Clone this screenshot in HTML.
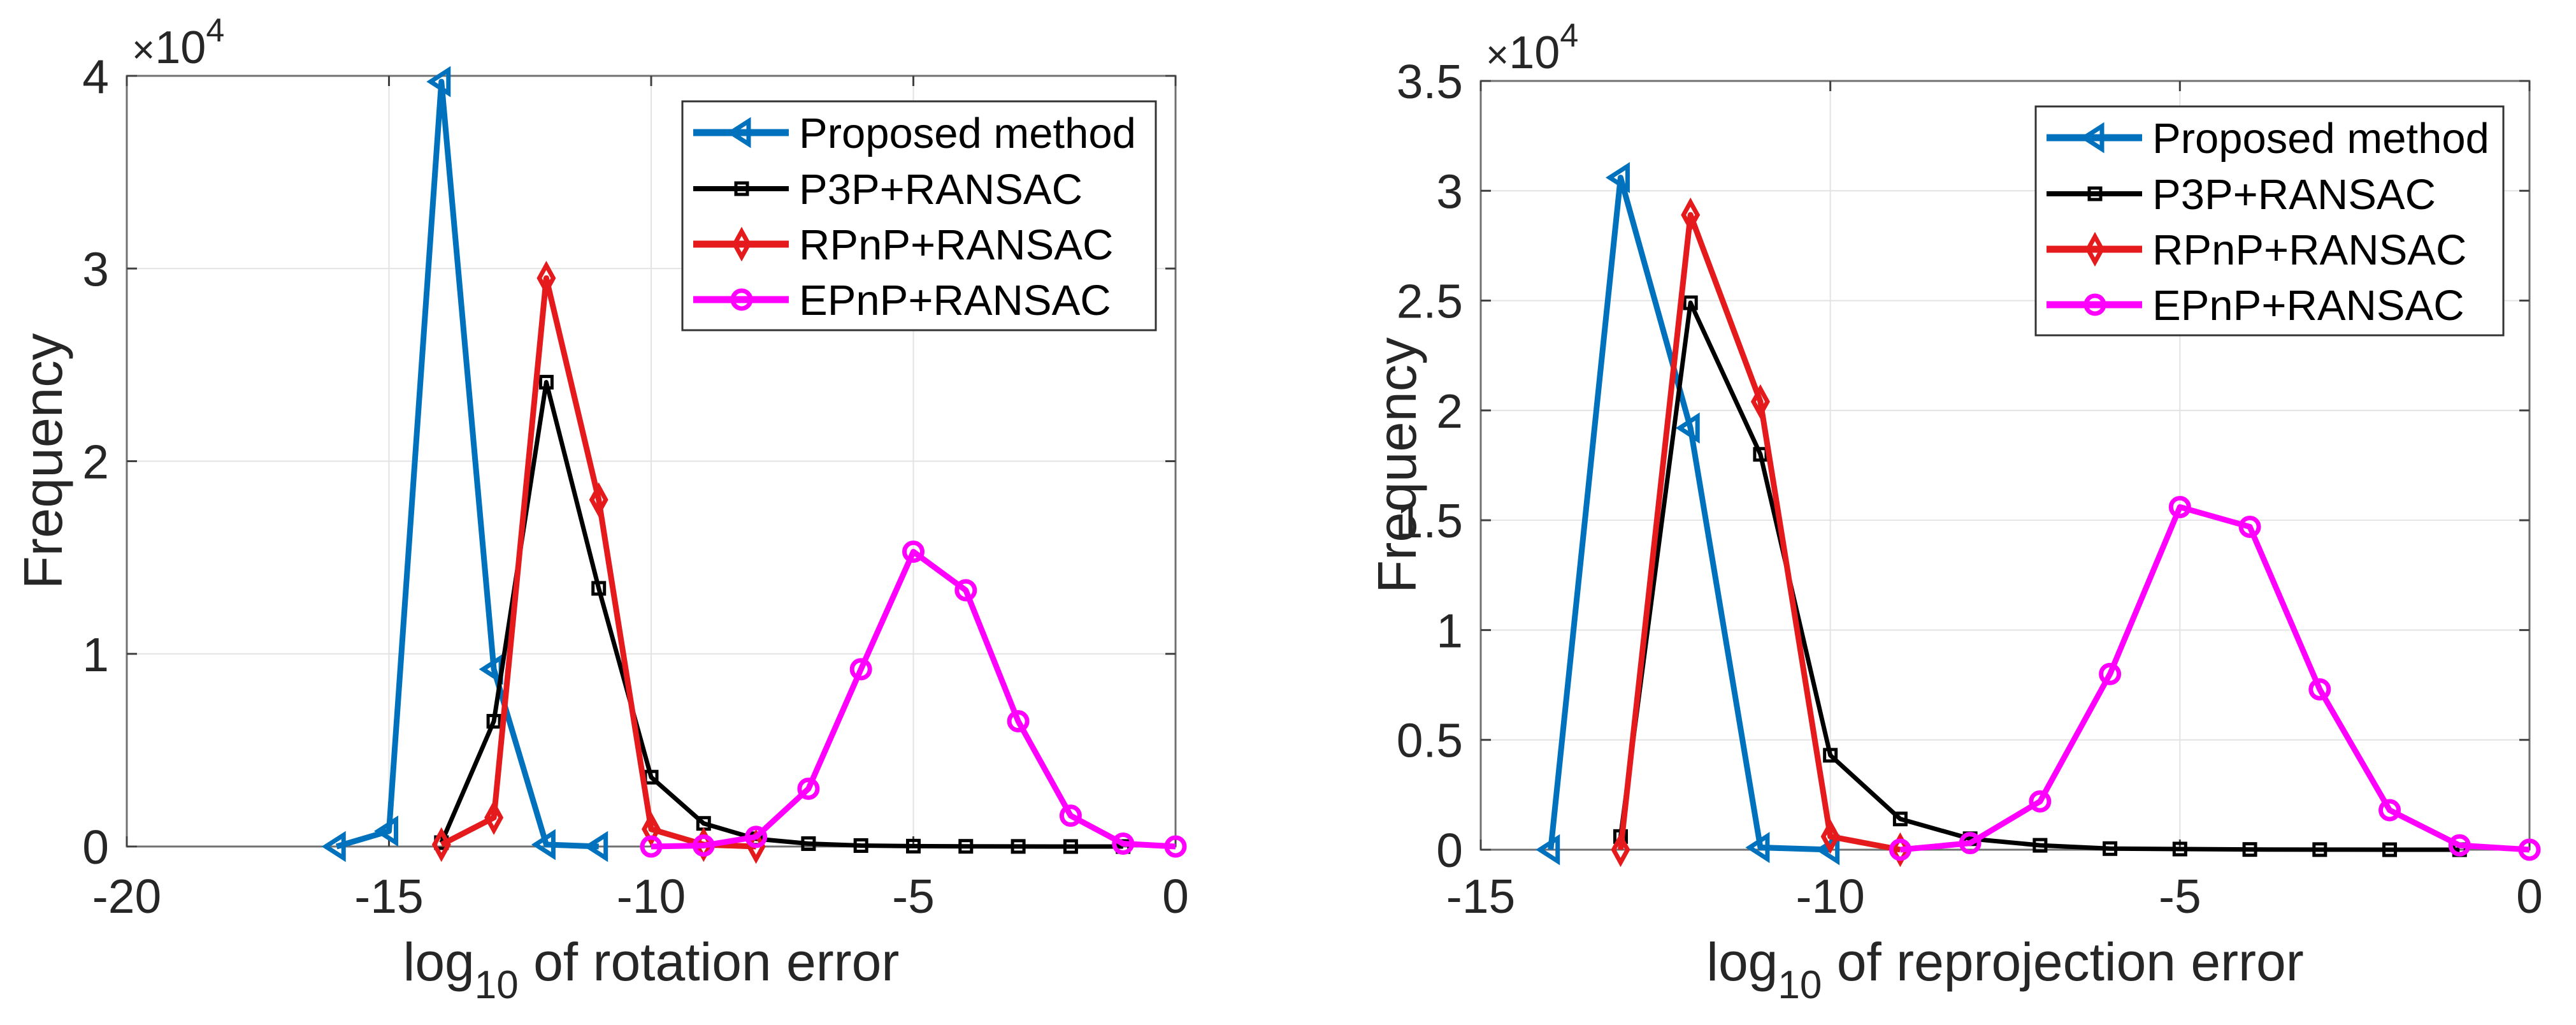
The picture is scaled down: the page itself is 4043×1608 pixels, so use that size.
<!DOCTYPE html>
<html><head><meta charset="utf-8"><style>
html,body{margin:0;padding:0;background:#fff;}
svg{display:block;font-family:"Liberation Sans",Arial,sans-serif;}
</style></head><body>
<svg id="fig" width="4043" height="1608" viewBox="0 0 4043 1608" xmlns="http://www.w3.org/2000/svg"></svg>
<script>
// ---- Left chart data (rotation error) ----
const rotPropX = [-16,-15,-14,-13,-12,-11];
const rotPropY = [0,800,39700,9200,100,0];
const rotP3pX = [-14,-13,-12,-11,-10,-9,-8,-7,-6,-5,-4,-3,-2,-1];
const rotP3pY = [200,6500,24100,13400,3600,1200,400,150,50,20,10,5,0,0];
const rotRpnpX = [-14,-13,-12,-11,-10,-9,-8];
const rotRpnpY = [100,1500,29500,18000,900,100,0];
const rotEpnpX = [-10,-9,-8,-7,-6,-5,-4,-3,-2,-1,0];
const rotEpnpY = [0,50,500,3000,9200,15300,13300,6500,1600,150,0];
const rotXTicks = [-20,-15,-10,-5,0];
const rotYTicks = [0,10000,20000,30000,40000];
const rotYTickLabels = ["0","1","2","3","4"];
// ---- Right chart data (reprojection error) ----
const repPropX = [-14,-13,-12,-11,-10];
const repPropY = [0,30600,19200,100,0];
const repP3pX = [-13,-12,-11,-10,-9,-8,-7,-6,-5,-4,-3,-2,-1];
const repP3pY = [600,24900,18000,4300,1400,500,200,50,30,10,5,0,0];
const repRpnpX = [-13,-12,-11,-10,-9];
const repRpnpY = [0,28900,20400,600,0];
const repEpnpX = [-9,-8,-7,-6,-5,-4,-3,-2,-1,0];
const repEpnpY = [0,300,2200,8000,15600,14700,7300,1800,200,0];
const repXTicks = [-15,-10,-5,0];
const repYTicks = [0,5000,10000,15000,20000,25000,30000,35000];
const repYTickLabels = ["0","0.5","1","1.5","2","2.5","3","3.5"];
const legendLabels = ["Proposed method","P3P+RANSAC","RPnP+RANSAC","EPnP+RANSAC"];

const NS="http://www.w3.org/2000/svg";
const svg=document.getElementById('fig');
function mk(tag,attrs,parent){const e=document.createElementNS(NS,tag);for(const k in attrs)e.setAttribute(k,attrs[k]);(parent||svg).appendChild(e);return e;}

const COLORS=["#0072BD","#000000","#E41A1C","#FF00FF"];
const MARK=["tri","sq","dia","circ"];

function marker(g,type,x,y,color){
  let e;
  if(type==="tri"){e=mk('polygon',{points:`${x-17},${y} ${x+11},${y-18} ${x+11},${y+18}`,fill:'none',stroke:color,'stroke-width':7},g);}
  else if(type==="sq"){e=mk('rect',{x:x-9,y:y-9,width:18,height:18,fill:'none',stroke:color,'stroke-width':5},g);}
  else if(type==="dia"){e=mk('polygon',{points:`${x},${y-20} ${x+11},${y} ${x},${y+20} ${x-11},${y}`,fill:'none',stroke:color,'stroke-width':7},g);}
  else {e=mk('circle',{cx:x,cy:y,r:14,fill:'none',stroke:color,'stroke-width':7},g);}
  
  
}

function chart(cfg){
  const {L,R,T,B,xmin,xmax,ymax,xTicks,yTicks,yLabels,series,xlabel,prefix,legend}=cfg;
  const sx=v=>L+(v-xmin)/(xmax-xmin)*(R-L);
  const sy=v=>B-v/ymax*(B-T);
  const g=mk('g',{});
  
  
  // grid
  xTicks.forEach(t=>{const l=mk('line',{x1:sx(t),x2:sx(t),y1:T,y2:B,stroke:'#e3e3e3','stroke-width':2},g);
    });
  yTicks.forEach(t=>{const l=mk('line',{x1:L,x2:R,y1:sy(t),y2:sy(t),stroke:'#e3e3e3','stroke-width':2},g);
    });
  // axes box
  const box=mk('rect',{x:L,y:T,width:R-L,height:B-T,fill:'none',stroke:'#707070','stroke-width':3},g);
  
  // ticks
  xTicks.forEach(t=>{
    mk('line',{x1:sx(t),x2:sx(t),y1:B,y2:B-16,stroke:'#404040','stroke-width':3},g);
    mk('line',{x1:sx(t),x2:sx(t),y1:T,y2:T+16,stroke:'#404040','stroke-width':3},g);
    const tx=mk('text',{x:sx(t),y:1432,'font-size':75,'text-anchor':'middle',fill:'#262626'},g);
    tx.textContent=String(t);
    
  });
  yTicks.forEach((t,i)=>{
    mk('line',{x1:L,x2:L+16,y1:sy(t),y2:sy(t),stroke:'#404040','stroke-width':3},g);
    mk('line',{x1:R,x2:R-16,y1:sy(t),y2:sy(t),stroke:'#404040','stroke-width':3},g);
    const tx=mk('text',{x:L-28,y:sy(t)+27,'font-size':75,'text-anchor':'end',fill:'#262626'},g);
    tx.textContent=yLabels[i];
    
  });
  // exponent
  const ex=mk('text',{x:L+8,y:T-20,'font-size':72,fill:'#262626'},g);
  
  const t1=mk('tspan',{'font-size':62},ex);t1.textContent='×';
  const t2=mk('tspan',{},ex);t2.textContent='10';
  const t3=mk('tspan',{dy:-34,'font-size':52},ex);t3.textContent='4';
  // axis titles
  const yt=mk('text',{x:0,y:0,'font-size':85,'text-anchor':'middle',fill:'#262626',transform:`translate(${L-102},${(T+B)/2}) rotate(-90)`},g);
  yt.textContent='Frequency';
  
  const xt=mk('text',{x:(L+R)/2,y:1538,'font-size':84,'text-anchor':'middle',fill:'#262626'},g);
  
  const a=mk('tspan',{},xt);a.textContent='log';
  const b=mk('tspan',{dy:28,'font-size':62},xt);b.textContent='10';
  const c=mk('tspan',{dy:-28},xt);c.textContent=' '+xlabel;
  // series
  series.forEach((s,i)=>{
    const sg=mk('g',{},g);
    
    
    const pts=s.x.map((v,j)=>sx(v)+','+sy(s.y[j])).join(' ');
    const pl=mk('polyline',{points:pts,fill:'none',stroke:COLORS[i],'stroke-width':i===1?7:9,'stroke-linejoin':'round'},sg);
    
    s.x.forEach((v,j)=>marker(sg,MARK[i],sx(v),sy(s.y[j]),COLORS[i]));
  });
  // legend
  const lg=mk('g',{},g);
  
  mk('rect',{x:legend.x,y:legend.y,width:legend.w,height:359,fill:'#fff',stroke:'#333','stroke-width':3},lg);
  const rows=[49,137,224,311];
  legendLabels.forEach((lab,i)=>{
    const y=legend.y+rows[i];
    const e=mk('g',{},lg);
    
    mk('line',{x1:legend.x+17,x2:legend.x+167,y1:y,y2:y,stroke:COLORS[i],'stroke-width':i===1?8:11},e);
    marker(e,MARK[i],legend.x+93,y,COLORS[i]);
    const t=mk('text',{x:legend.x+183,y:y+24,'font-size':67,fill:'#000'},e);
    t.textContent=lab;
  });
}

chart({L:199,R:1845,T:119,B:1328,xmin:-20,xmax:0,ymax:40000,xTicks:rotXTicks,yTicks:rotYTicks,yLabels:rotYTickLabels,
  series:[{x:rotPropX,y:rotPropY},{x:rotP3pX,y:rotP3pY},{x:rotRpnpX,y:rotRpnpY},{x:rotEpnpX,y:rotEpnpY}],
  xlabel:'of rotation error',prefix:'rotation',legend:{x:1071,y:159,w:743}});
chart({L:2324,R:3970,T:127,B:1333,xmin:-15,xmax:0,ymax:35000,xTicks:repXTicks,yTicks:repYTicks,yLabels:repYTickLabels,
  series:[{x:repPropX,y:repPropY},{x:repP3pX,y:repP3pY},{x:repRpnpX,y:repRpnpY},{x:repEpnpX,y:repEpnpY}],
  xlabel:'of reprojection error',prefix:'reprojection',legend:{x:3195,y:167,w:734}});
</script>
</body></html>
